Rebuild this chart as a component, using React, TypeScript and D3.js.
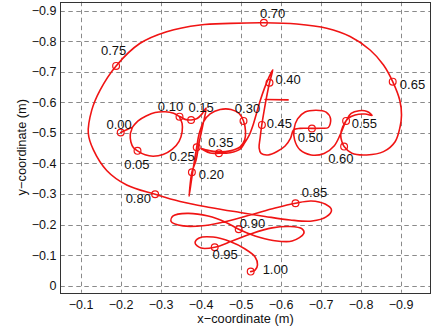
import React, { useEffect, useRef } from "react";
import * as d3 from "d3";

type Pt = [number, number];

// Trajectory pieces in metres [x, y]; the pieces follow each other in time.
// lead-in and "o" (t = 0.00 .. 0.15)
const pathO: Pt[] = [
  [-0.199, -0.501], [-0.2125, -0.5095], [-0.227, -0.516], [-0.223, -0.496],
  [-0.2245, -0.470], [-0.231, -0.451], [-0.241, -0.441], [-0.260, -0.428],
  [-0.280, -0.4235], [-0.305, -0.429], [-0.3275, -0.4455], [-0.345, -0.472],
  [-0.3525, -0.503], [-0.3525, -0.531], [-0.346, -0.553], [-0.360, -0.544],
  [-0.375, -0.542], [-0.390, -0.547], [-0.4025, -0.562],
];

// "p": stem down and up, then the bowl (t = 0.15 .. 0.35)
const pathP: Pt[] = [
  [-0.4125, -0.5815], [-0.404, -0.523], [-0.395, -0.467], [-0.3875, -0.411],
  [-0.377, -0.371], [-0.370, -0.292], [-0.376, -0.346], [-0.3825, -0.4015],
  [-0.389, -0.453], [-0.395, -0.496], [-0.406, -0.536], [-0.4225, -0.562],
  [-0.4475, -0.5765], [-0.475, -0.5765], [-0.495, -0.5635], [-0.506, -0.539],
  [-0.511, -0.506], [-0.509, -0.477], [-0.4975, -0.454], [-0.4725, -0.441],
  [-0.4425, -0.438], [-0.415, -0.4435], [-0.400, -0.449], [-0.4225, -0.434],
  [-0.4445, -0.433], [-0.4725, -0.435], [-0.4975, -0.447],
];

// "t": up to the top, down the stem (t = 0.35 .. 0.45)
const pathT: Pt[] = [
  [-0.50875, -0.467], [-0.520, -0.4915], [-0.530, -0.526], [-0.53875, -0.565],
  [-0.5475, -0.604], [-0.55875, -0.647], [-0.570, -0.683], [-0.5793, -0.706],
  [-0.571, -0.664], [-0.56375, -0.6175], [-0.5575, -0.5717], [-0.55175, -0.526],
  [-0.5475, -0.483], [-0.545, -0.4505], [-0.550, -0.4325], [-0.5675, -0.4277],
  [-0.590, -0.439], [-0.610, -0.457], [-0.62375, -0.483], [-0.63125, -0.5095],
];

// "e" (t = 0.45 .. 0.55)
const pathE: Pt[] = [
  [-0.6475, -0.5145], [-0.677, -0.5145], [-0.700, -0.515], [-0.718, -0.5175],
  [-0.72375, -0.5455], [-0.7125, -0.568], [-0.6875, -0.574], [-0.660, -0.568],
  [-0.64125, -0.5455], [-0.6325, -0.513], [-0.63375, -0.477], [-0.6475, -0.444],
  [-0.675, -0.4277], [-0.7075, -0.4326], [-0.7325, -0.457], [-0.7475, -0.493],
  [-0.7625, -0.539],
];

// "c" with its top hook (t = 0.55 .. 0.65)
const pathC: Pt[] = [
  [-0.775, -0.5635], [-0.795, -0.5723], [-0.815, -0.570], [-0.8275, -0.557],
  [-0.810, -0.5615], [-0.785, -0.5586], [-0.7675, -0.547], [-0.754, -0.5195],
  [-0.749, -0.493], [-0.752, -0.471], [-0.7575, -0.455], [-0.777, -0.433],
  [-0.814, -0.4277], [-0.856, -0.4385], [-0.885, -0.471], [-0.8975, -0.520],
  [-0.901, -0.558], [-0.897, -0.605], [-0.879, -0.6675],
];

// big loop around the word (t = 0.65 .. 0.80)
const pathLoop: Pt[] = [
  [-0.856, -0.722], [-0.8225, -0.771], [-0.7725, -0.815], [-0.714, -0.842],
  [-0.639, -0.856], [-0.557, -0.860], [-0.4725, -0.858], [-0.3975, -0.853],
  [-0.314, -0.831], [-0.2475, -0.793], [-0.1875, -0.719], [-0.1475, -0.640],
  [-0.1268, -0.575], [-0.118, -0.4985], [-0.1308, -0.444], [-0.164, -0.377],
  [-0.214, -0.3295], [-0.285, -0.299],
];

// flourish underneath (t = 0.80 .. 1.00)
const pathFlourish: Pt[] = [
  [-0.3475, -0.2755], [-0.4225, -0.256], [-0.4975, -0.2395], [-0.560, -0.2265],
  [-0.6225, -0.215], [-0.6775, -0.2115], [-0.7125, -0.2248], [-0.726, -0.2477],
  [-0.710, -0.267], [-0.675, -0.277], [-0.636, -0.2696], [-0.585, -0.254],
  [-0.5275, -0.233], [-0.4675, -0.2115], [-0.410, -0.197], [-0.355, -0.1955],
  [-0.325, -0.210], [-0.330, -0.228], [-0.365, -0.2365], [-0.4175, -0.228],
  [-0.4625, -0.207], [-0.494, -0.1846], [-0.535, -0.1625], [-0.580, -0.148],
  [-0.6275, -0.146], [-0.657, -0.1715], [-0.6525, -0.186], [-0.6225, -0.1935],
  [-0.5775, -0.189], [-0.5275, -0.171], [-0.4775, -0.146], [-0.434, -0.1257],
  [-0.400, -0.123], [-0.385, -0.1395], [-0.395, -0.156], [-0.430, -0.159],
  [-0.4725, -0.1445], [-0.510, -0.120], [-0.535, -0.094], [-0.541, -0.068],
  [-0.535, -0.051], [-0.524, -0.046],
];

// strokes drawn apart from the main path
const oTopArc: Pt[] = [
  [-0.346, -0.553], [-0.3313, -0.564], [-0.310, -0.569], [-0.285, -0.5665],
  [-0.2625, -0.555], [-0.2425, -0.539], [-0.227, -0.516],
];
const tCrossbar: Pt[] = [[-0.560, -0.609], [-0.6175, -0.6077]];

const markerTime = [0, 0.05, 0.1, 0.15, 0.2, 0.25, 0.3, 0.35, 0.4, 0.45, 0.5,
  0.55, 0.6, 0.65, 0.7, 0.75, 0.8, 0.85, 0.9, 0.95, 1.0];
const markerX = [-0.199, -0.241, -0.346, -0.375, -0.377, -0.389, -0.506, -0.4445,
  -0.571, -0.552, -0.677, -0.7625, -0.7575, -0.879, -0.557, -0.1875, -0.285,
  -0.636, -0.494, -0.434, -0.524];
const markerY = [-0.501, -0.441, -0.553, -0.542, -0.371, -0.453, -0.539, -0.433,
  -0.664, -0.526, -0.514, -0.539, -0.455, -0.6675, -0.860, -0.719, -0.299,
  -0.2696, -0.1846, -0.1257, -0.046];

const xTicks = [-0.1, -0.2, -0.3, -0.4, -0.5, -0.6, -0.7, -0.8, -0.9];
const yTicks = [0, -0.1, -0.2, -0.3, -0.4, -0.5, -0.6, -0.7, -0.8, -0.9];
const xDomain: Pt = [-0.048, -0.974];
const yDomain: Pt = [0.023, -0.929];

// where each time label sits around its marker, px: [dx to centre, dy to baseline]
const labelOffset: Pt[] = [
  [-1.5, -4], [-0.6, 18], [-9, -5.2], [10, -8], [19.5, 6.7], [-14.5, 13.4],
  [4, -7.7], [2, -6], [18.7, 1.6], [17.5, 3], [-1.5, 13], [18.2, 7.3],
  [-3.2, 16.6], [19.8, 7.3], [8.8, -4.7], [-2.5, -11], [-16.8, 9], [19, -6.6],
  [13.8, -1], [10.5, 12], [24.6, 2.3],
];

const W = 433;
const H = 333;
const plot = { left: 60.3, right: 430.7, top: 1.7, bottom: 292.7 };
const FONT = "'Liberation Sans', Arial, Helvetica, sans-serif";
const RED = "#f01414";

const fmtTick = (d: number) => (d === 0 ? "0" : "\u2212" + Math.abs(d).toFixed(1));

export default function App() {
  const svgRef = useRef<SVGSVGElement>(null);

  useEffect(() => {
    const svg = d3.select(svgRef.current);
    svg.selectAll("*").remove();

    const x = d3.scaleLinear().domain(xDomain).range([plot.left, plot.right]);
    const y = d3.scaleLinear().domain(yDomain).range([plot.bottom, plot.top]);
    const snap = (v: number) => Math.round(v) + 0.5;

    svg.append("rect").attr("width", W).attr("height", H).attr("fill", "#fff");

    // dashed grid
    const grid = svg.append("g")
      .attr("stroke", "#8a8a8a")
      .attr("stroke-width", 1)
      .attr("stroke-dasharray", "4.5,3.5");
    grid.selectAll(".gx").data(xTicks).enter().append("line")
      .attr("x1", d => snap(x(d))).attr("x2", d => snap(x(d)))
      .attr("y1", plot.top).attr("y2", plot.bottom);
    grid.selectAll(".gy").data(yTicks).enter().append("line")
      .attr("y1", d => snap(y(d))).attr("y2", d => snap(y(d)))
      .attr("x1", plot.left).attr("x2", plot.right);

    // axes box
    svg.append("rect")
      .attr("x", snap(plot.left)).attr("y", snap(plot.top))
      .attr("width", Math.round(plot.right - plot.left))
      .attr("height", Math.round(plot.bottom - plot.top))
      .attr("fill", "none").attr("stroke", "#333").attr("stroke-width", 1);

    // tick labels
    svg.append("g").selectAll("text").data(xTicks).enter().append("text")
      .attr("x", d => x(d)).attr("y", 309)
      .attr("text-anchor", "middle")
      .attr("font-family", FONT).attr("font-size", 12.5).attr("fill", "#111")
      .text(fmtTick);
    svg.append("g").selectAll("text").data(yTicks).enter().append("text")
      .attr("x", 56.5).attr("y", d => y(d)).attr("dy", "0.36em")
      .attr("text-anchor", "end")
      .attr("font-family", FONT).attr("font-size", 12.5).attr("fill", "#111")
      .text(fmtTick);

    // axis titles
    svg.append("text")
      .attr("x", (plot.left + plot.right) / 2).attr("y", 323)
      .attr("text-anchor", "middle")
      .attr("font-family", FONT).attr("font-size", 12.8).attr("fill", "#111")
      .text("x\u2212coordinate (m)");
    svg.append("text")
      .attr("transform", `translate(26, ${(plot.top + plot.bottom) / 2}) rotate(-90)`)
      .attr("text-anchor", "middle")
      .attr("font-family", FONT).attr("font-size", 12.8).attr("fill", "#111")
      .text("y\u2212coordinate (m)");

    // trajectory
    const line = d3.line<Pt>()
      .x(d => x(d[0]))
      .y(d => y(d[1]))
      .curve(d3.curveCatmullRom.alpha(0.5));

    const trajectory: Pt[] = [
      ...pathO, ...pathP, ...pathT, ...pathE, ...pathC, ...pathLoop, ...pathFlourish,
    ];
    const strokes = [trajectory, oTopArc, tCrossbar];

    svg.append("g").selectAll("path").data(strokes).enter().append("path")
      .attr("d", d => line(d))
      .attr("fill", "none")
      .attr("stroke", RED)
      .attr("stroke-width", 1.6)
      .attr("stroke-linejoin", "round")
      .attr("stroke-linecap", "round");

    // time markers
    const idx = markerTime.map((_, i) => i);
    svg.append("g").selectAll("circle").data(idx).enter().append("circle")
      .attr("cx", i => x(markerX[i])).attr("cy", i => y(markerY[i]))
      .attr("r", 3.4)
      .attr("fill", "none").attr("stroke", RED).attr("stroke-width", 1.2);

    svg.append("g").selectAll("text").data(idx).enter().append("text")
      .attr("x", i => x(markerX[i]) + labelOffset[i][0])
      .attr("y", i => y(markerY[i]) + labelOffset[i][1])
      .attr("text-anchor", "middle")
      .attr("font-family", FONT).attr("font-size", 13).attr("fill", "#111")
      .text(i => markerTime[i].toFixed(2));
  }, []);

  return (
    <svg
      ref={svgRef}
      width={W}
      height={H}
      style={{ position: "absolute", left: 0, top: 0, display: "block" }}
    />
  );
}
